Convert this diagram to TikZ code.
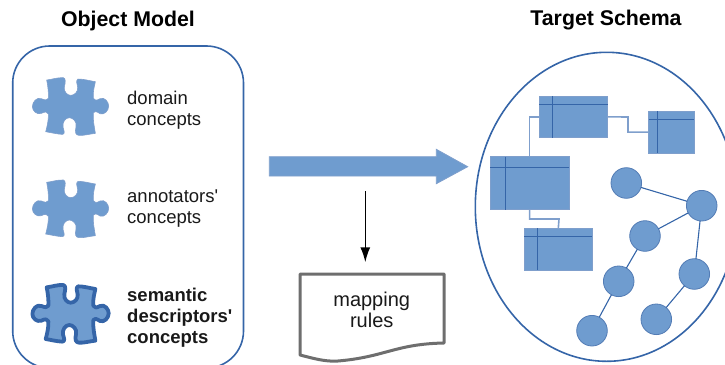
\documentclass[tikz,border=0pt]{standalone}
\usetikzlibrary{arrows.meta}
\usepackage{fontspec}
\setmainfont{Liberation Sans}
\definecolor{fillblue}{HTML}{6F9CCF}
\definecolor{edgeblue}{HTML}{3565A8}
\definecolor{linkblue}{HTML}{7F9FCC}
\definecolor{docgray}{HTML}{6E6E6E}
\newcommand{\puzzlepath}{(-72,-80) .. controls (-55,-82) and (-40,-88) .. (-22,-87)
 .. controls (-14,-85) and (-16,-72) .. (-19,-60)
 .. controls (-22,-45) and (-10,-34) .. (0,-34)
 .. controls (12,-34) and (22,-45) .. (21,-58)
 .. controls (20,-68) and (14,-78) .. (22,-83)
 .. controls (40,-83) and (55,-78) .. (74,-75)
 .. controls (71,-60) and (66,-45) .. (68,-25)
 .. controls (70,-18) and (78,-18) .. (88,-24)
 .. controls (102,-30) and (114,-14) .. (114,-2)
 .. controls (114,12) and (100,26) .. (88,21)
 .. controls (78,14) and (70,12) .. (68,18)
 .. controls (66,40) and (71,60) .. (74,80)
 .. controls (55,82) and (40,87) .. (25,86)
 .. controls (15,85) and (12,78) .. (16,60)
 .. controls (20,45) and (6,33) .. (-4,33)
 .. controls (-16,33) and (-26,47) .. (-23,62)
 .. controls (-20,72) and (-16,82) .. (-25,83)
 .. controls (-42,82) and (-58,78) .. (-75,75)
 .. controls (-71,60) and (-66,40) .. (-67,22)
 .. controls (-69,15) and (-77,14) .. (-88,20)
 .. controls (-102,25) and (-115,12) .. (-115,0)
 .. controls (-115,-14) and (-102,-30) .. (-88,-24)
 .. controls (-78,-20) and (-69,-18) .. (-67,-25)
 .. controls (-66,-40) and (-68,-60) .. (-72,-80) -- cycle}
% table: x1,y1,x2,y2 (pixels), header y, column x, name
\newcommand{\dbtable}[7]{%
 \node[tablebox,minimum width=#3pt-#1pt,minimum height=#4pt-#2pt,anchor=north west] (#7) at (#1,#2) {};
 \draw[tablerule] (#1,#5) -- (#3,#5);
 \draw[tablerule] (#6,#2) -- (#6,#4);}
\tikzset{
 labeltext/.style={anchor=west,align=left,inner sep=0pt,font=\fontsize{18.5}{21}\selectfont,text=black!90},
 titletext/.style={anchor=center,inner sep=0pt,font=\fontsize{21.3}{25}\selectfont\bfseries},
 tablebox/.style={draw=linkblue,fill=fillblue,line width=1pt,inner sep=0pt,outer sep=0pt},
 tablerule/.style={draw=edgeblue,line width=1pt},
 dot/.style={circle,draw=edgeblue!85!white,fill=fillblue,line width=.8pt,minimum size=30.6pt,inner sep=0pt,outer sep=0pt},
 dotlink/.style={draw=edgeblue,line width=1.1pt},
 tablelink/.style={draw=linkblue,line width=1.6pt},
 piece/.style={fill=fillblue,draw=linkblue,line width=.6pt},
 boldpiece/.style={fill=fillblue,draw=edgeblue,line width=3.8pt,line join=round},
 outline/.style={draw=edgeblue,line width=1.6pt}
}
\begin{document}
\begin{tikzpicture}[x=1pt,y=-1pt]
\useasboundingbox (0,0) rectangle (725,364);
\clip (0,0) rectangle (725,364);
\node[titletext] (t1) at (128,20.5) {Object Model};
\node[titletext] (t2) at (606,20.5) {Target Schema};
\draw[outline,rounded corners=37pt] (12.7,46) rectangle (243.5,368);
\begin{scope}[shift={(70.7,106.7)},x=.3333pt,y=-.3333pt]
 \path[piece] \puzzlepath;
\end{scope}
\begin{scope}[shift={(70.7,209)},x=.3333pt,y=-.3333pt]
 \path[piece] \puzzlepath;
\end{scope}
\begin{scope}[shift={(70.7,314)},x=.3333pt,y=-.3333pt]
 \path[boldpiece] \puzzlepath;
\end{scope}
\node[labeltext] (l1) at (127,110) {domain\\concepts};
\node[labeltext] (l2) at (127,209) {annotators\textquotesingle\\concepts};
\node[labeltext,font=\fontsize{18.5}{21}\selectfont\bfseries] (l3) at (127,318) {semantic\\descriptors\textquotesingle\\concepts};
% big arrow
\path[fill=fillblue,draw=linkblue,line width=.8pt] (269.3,156.7) -- (436.3,156.7) -- (436.3,149.3) -- (467.7,166.7) -- (436.3,183.7) -- (436.3,176) -- (269.3,176) -- cycle;
% mapping rules document
\path[draw=docgray,fill=white,line width=3pt,line join=round] (300,274) -- (444,274) -- (444,343) .. controls (395,344) and (385,357) .. (338,361) .. controls (325,362) and (312,358) .. (300,355) -- cycle;
\node[inner sep=0pt,align=center,font=\fontsize{20}{21}\selectfont,text=black!90] (doc) at (371.7,310) {mapping\\rules};
\coordinate (arrowstart) at (365.3,191);
\coordinate (arrowend) at (365.3,262.3);
\draw[black,line width=1.6pt,-{Latex[length=15pt,width=10pt]}] (arrowstart) -- (arrowend);
% target schema
\draw[outline] (606.7,206.8) ellipse [x radius=131.4,y radius=154.5];
\dbtable{539.3}{96}{607.7}{137.7}{104.3}{552.3}{ta}
\dbtable{648.7}{111.3}{694.3}{153}{119.3}{657.3}{tb}
\dbtable{490}{156.7}{569.3}{209.7}{167.3}{505.3}{tc}
\dbtable{524.3}{228.3}{592.3}{270.3}{236.7}{537.3}{td}
\draw[tablelink] (ta.west) -| (tc.north);
\draw[tablelink] (ta.east) -- (628,117) |- (tb.west);
\draw[tablelink] (tc.south) |- (559,219) -- (td.north);
\node[dot] (a) at (626.3,183) {};
\node[dot] (b) at (701.7,205.7) {};
\node[dot] (c) at (645,236) {};
\node[dot] (d) at (618.7,281.3) {};
\node[dot] (e) at (694.3,274) {};
\node[dot] (f) at (592,330.7) {};
\node[dot] (g) at (656.3,319.3) {};
\draw[dotlink] (a) -- (b);
\draw[dotlink] (b) -- (c);
\draw[dotlink] (b) -- (e);
\draw[dotlink] (c) -- (d);
\draw[dotlink] (d) -- (f);
\draw[dotlink] (e) -- (g);
\end{tikzpicture}
\end{document}
